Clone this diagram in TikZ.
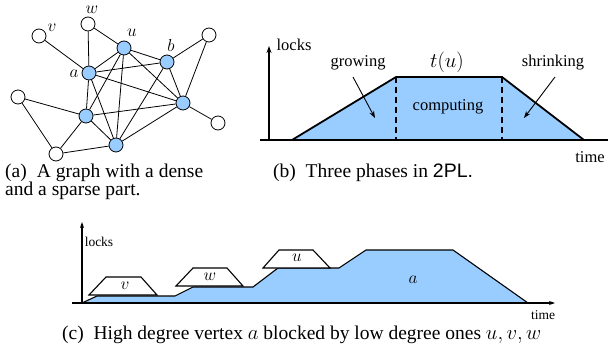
\documentclass[tikz,border=0pt]{standalone}
\usepackage{fontspec}
\setmainfont{Liberation Serif}
\newfontfamily\helv{Liberation Sans}
\usetikzlibrary{arrows.meta}
\definecolor{lblue}{RGB}{153,204,255}
\tikzset{
  wn/.style={circle,draw,fill=white,minimum size=14pt,inner sep=0pt,line width=0.8pt},
  bn/.style={wn,fill=lblue},
  edge/.style={line width=0.8pt},
  vlab/.style={inner sep=0pt,font=\fontsize{16}{18}\selectfont},
  lab/.style={inner sep=0pt,font=\fontsize{16.5}{19}\selectfont},
  smlab/.style={inner sep=0pt,font=\fontsize{13.5}{16}\selectfont},
  captxt/.style={inner sep=0pt,anchor=base west,font=\fontsize{19.5}{23}\selectfont},
  axisb/.style={line width=1.8pt,-{Stealth[length=7pt,width=5pt]}},
  thickl/.style={line width=1.8pt},
  axisc/.style={line width=1.1pt,-{Stealth[length=6pt,width=4pt]}},
  lblarrow/.style={line width=0.9pt,-{Stealth[length=7pt,width=5pt]}},
}
\begin{document}
\begin{tikzpicture}[x=1pt,y=-1pt]
\useasboundingbox (0,0) rectangle (608,345);
% ---------- (a) graph ----------
\node[wn] (v) at (39,36) {};
\node[wn] (w) at (88,24) {};
\node[bn] (u) at (124,48) {};
\node[bn] (b) at (167,62) {};
\node[bn] (a) at (89,73) {};
\node[wn] (tr) at (209,35) {};
\node[wn] (lw) at (18,97) {};
\node[bn] (rb) at (183,103) {};
\node[bn] (lb) at (86,116) {};
\node[wn] (rw) at (218,123) {};
\node[bn] (bb) at (116,145) {};
\node[wn] (bw) at (56,154) {};
\node[vlab] (lv) at (52,28) {$v$};
\node[vlab] (lww) at (92,10) {$w$};
\node[vlab] (lu) at (132,33) {$u$};
\node[vlab] (lbb) at (171,46) {$b$};
\node[vlab] (la) at (74,74) {$a$};
\foreach \s/\t in {v/a,w/a,w/u,u/a,u/b,u/lb,u/bb,u/rb,a/b,a/rb,a/lb,a/bb,b/tr,b/rb,b/bb,tr/rb,rb/rw,rb/lb,rb/bb,lb/bb,lb/lw,lb/bw,lw/bw,bw/bb}
  \draw[edge] (\s) -- (\t);
% ---------- (b) 2PL ----------
\coordinate (b0) at (292,140);
\coordinate (b1) at (396,77);
\coordinate (b2) at (502,77);
\coordinate (b3) at (584,140);
\coordinate (d1) at (396,140);
\coordinate (d2) at (502,140);
\fill[lblue] (b0) -- (b1) -- (b2) -- (b3) -- cycle;
\draw[thickl,line join=miter] (b0) -- (b1) -- (b2) -- (b3);
\draw[thickl,dash pattern=on 6pt off 4pt] (b1) -- (d1);
\draw[thickl,dash pattern=on 6pt off 4pt] (b2) -- (d2);
\coordinate (bxs) at (260,140);
\coordinate (bxe) at (608,140);
\draw[thickl] (bxs) -- (bxe);
\coordinate (byo) at (269,141);
\coordinate (bye) at (269,46);
\draw[axisb] (byo) -- (bye);
\node[lab] (blocks) at (294,45) {locks};
\node[lab] (grow) at (358,63) {growing};
\node[lab] (shrink) at (553,63) {shrinking};
\node[inner sep=0pt,font=\fontsize{21}{24}\selectfont] (tu) at (447,62) {$t(u)$};
\node[lab] (comp) at (448,107) {computing};
\node[lab] (btime) at (590,157) {time};
\coordinate (ga0) at (353,77);
\coordinate (ga1) at (375,118);
\coordinate (sa0) at (555,77);
\coordinate (sa1) at (524,118);
\draw[lblarrow] (ga0) -- (ga1);
\draw[lblarrow] (sa0) -- (sa1);
% ---------- (c) blocking ----------
\coordinate (c0) at (82,303);
\fill[lblue] (c0) -- (97,296) -- (175,296) -- (193,287) -- (253,287) -- (278,268) -- (339,268) -- (366,250) -- (453,250) -- (528,303) -- cycle;
\draw[line width=1.1pt] (c0) -- (97,296) -- (175,296) -- (193,287) -- (253,287) -- (278,268) -- (339,268) -- (366,250) -- (453,250) -- (528,303);
\coordinate (cxs) at (72,303);
\coordinate (cxe) at (555,303);
\draw[axisc] (cxs) -- (cxe);
\coordinate (cyo) at (82,304);
\coordinate (cye) at (82,222);
\draw[axisc] (cyo) -- (cye);
\draw[line width=1.1pt,fill=white] (89,295) -- (106,277) -- (141,277) -- (157,295) -- cycle;
\draw[line width=1.1pt,fill=white] (176,286) -- (193,268) -- (227,268) -- (243,286) -- cycle;
\draw[line width=1.1pt,fill=white] (263,268) -- (279,250) -- (313,250) -- (330,268) -- cycle;
\node[inner sep=0pt,font=\fontsize{19}{22}\selectfont] (tv) at (125,286) {$v$};
\node[inner sep=0pt,font=\fontsize{19}{22}\selectfont] (tw) at (210,277) {$w$};
\node[inner sep=0pt,font=\fontsize{19}{22}\selectfont] (tuu) at (297,258) {$u$};
\node[inner sep=0pt,font=\fontsize{19}{22}\selectfont] (ta) at (413,280) {$a$};
\node[smlab] (clocks) at (99,242) {locks};
\node[smlab] (ctime) at (543,315) {time};
% ---------- captions ----------
\node[captxt] (capa1) at (5,177) {\makebox[198pt][s]{(a)\ \ A graph with a dense}};
\node[captxt] (capa2) at (5,195) {and a sparse part.};
\node[captxt] (capb) at (273,177) {(b)\ \ Three phases in {\helv 2PL.}};
\node[captxt] (capc) at (62,339) {(c)\ \ High degree vertex $a$ blocked by low degree ones $u, v, w$};
\end{tikzpicture}
\end{document}
